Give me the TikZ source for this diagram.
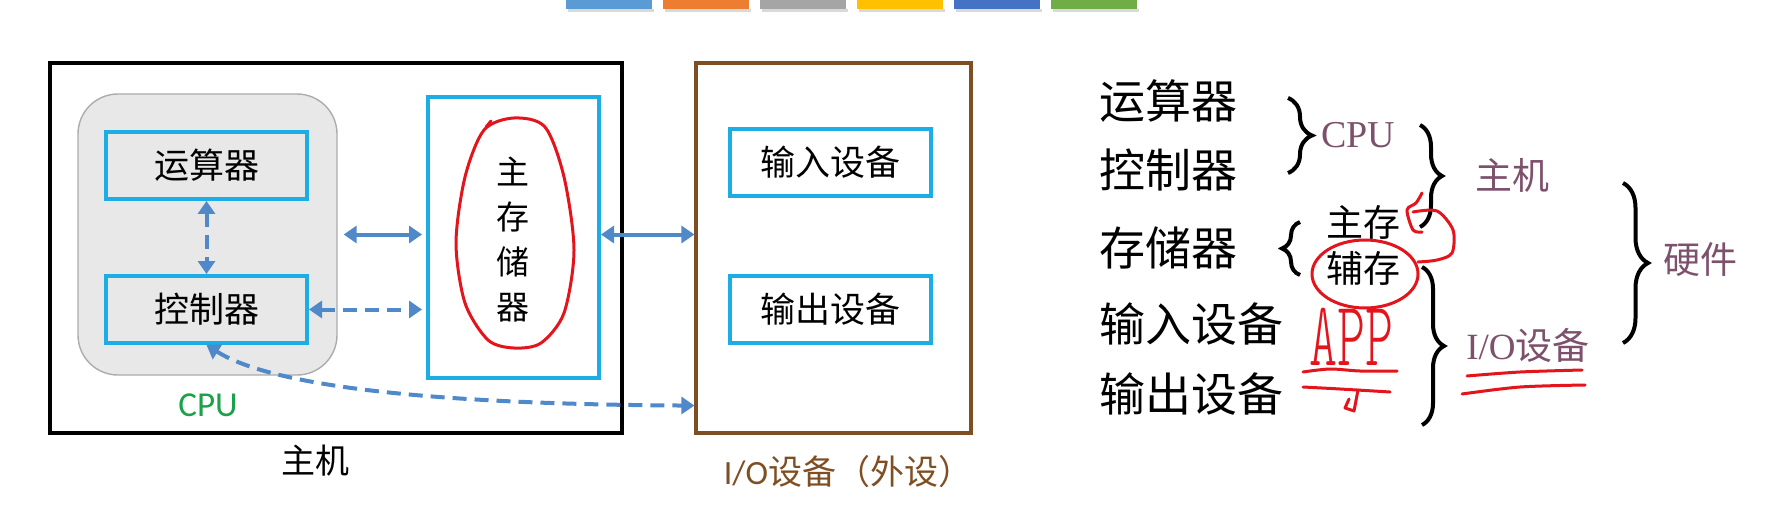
\documentclass[tikz,border=0pt]{standalone}
\usepackage{fontspec}
\setmainfont{Noto Sans CJK SC}
\newfontfamily\latsans{Carlito}
\newfontfamily\latserif{Liberation Serif}
\newfontfamily\penfont{Latin Modern Mono Light}
\usepackage{tikz}
\usetikzlibrary{arrows.meta,positioning,calc,decorations.pathreplacing}
\definecolor{boxcyan}{HTML}{1CADE4}
\definecolor{linkblue}{HTML}{5089CA}
\definecolor{iobrown}{HTML}{7F4F24}
\definecolor{cpugreen}{HTML}{1AA14A}
\definecolor{notepurple}{HTML}{7D506C}
\definecolor{penred}{HTML}{E3141B}
\definecolor{barA}{HTML}{5B9BD5}
\definecolor{barB}{HTML}{ED7D31}
\definecolor{barC}{HTML}{A5A5A5}
\definecolor{barD}{HTML}{FFC000}
\definecolor{barE}{HTML}{4472C4}
\definecolor{barF}{HTML}{70AD47}
\tikzset{
  hostbox/.style ={draw=black,line width=1.8pt,minimum width=286pt,minimum height=185pt,inner sep=0pt},
  cpubox/.style  ={draw=gray!65,fill=gray!18,line width=0.7pt,rounded corners=20pt,
                   minimum width=129.5pt,minimum height=140.5pt,inner sep=0pt},
  unitbox/.style ={draw=boxcyan,line width=2pt,minimum width=100.5pt,minimum height=33.5pt,
                   inner sep=0pt,font=\fontsize{17.5}{20}\selectfont},
  membox/.style  ={draw=boxcyan,line width=2pt,minimum width=85.5pt,minimum height=140.5pt,inner sep=0pt},
  iobox/.style   ={draw=iobrown,line width=1.6pt,minimum width=137.5pt,minimum height=185pt,inner sep=0pt},
  link/.style    ={{Triangle[length=6.5pt,width=8.5pt]}-{Triangle[length=6.5pt,width=8.5pt]},
                   line width=2pt,linkblue},
  dlink/.style   ={link,dash pattern=on 7pt off 4pt},
  big/.style     ={anchor=west,inner sep=0pt,font=\fontsize{23}{26}\selectfont},
  small/.style   ={inner sep=0pt,font=\fontsize{18.5}{21}\selectfont},
  note/.style    ={inner sep=0pt,text=notepurple,font=\fontsize{18.5}{21}\selectfont},
  brc/.style     ={decorate,decoration={brace,amplitude=#1},line width=2pt},
  pen/.style     ={penred,line width=1.5pt,line cap=round,line join=round},
}

\begin{document}
\begin{tikzpicture}[x=0.5pt,y=-0.5pt]
  \useasboundingbox (0,0) rectangle (1791,529);
  % colour strip
  \foreach \c [count=\i from 0] in {barA,barB,barC,barD,barE,barF}{
    \fill[black!15] ({568+97*\i},9) rectangle ++(86,3);
    \fill[\c] ({566+97*\i},0) rectangle ++(86,9);
  }
  % host
  \node[hostbox] (host) at (336,248) {};
  \node[cpubox]  (cpu)  at (207.5,234.5) {};
  \node[unitbox] (alu)  at (206.5,165.5) {运算器};
  \node[unitbox] (ctrl) at (206.5,309.5) {控制器};
  \node[membox]  (mem)  at (513.5,237.5) {};
  \node[align=center,inner sep=0pt,font=\fontsize{16.5}{22.5}\selectfont] (memtxt) at (513,240) {主\\存\\储\\器};
  \node[text=cpugreen,font=\latsans\fontsize{17.5}{20}\selectfont] (cpulbl) at (208,405) {CPU};
  \node[font=\fontsize{17}{20}\selectfont] (hostlbl) at (315,461) {主机};
  % io devices
  \node[iobox]   (io)   at (833.5,248) {};
  \node[unitbox] (inp)  at (830.5,162.5) {输入设备};
  \node[unitbox] (outp) at (830.5,309) {输出设备};
  \node[text=iobrown,font=\fontsize{17}{20}\selectfont] (iolbl) at (848,472) {{\latsans I/O}设备（外设）};
  % links
  \coordinate (ioend) at ($(io.south west)+(0,-29)$);
  \draw[dlink] (alu.south) -- (ctrl.north);
  \draw[link,shorten <=3pt,shorten >=2pt] (cpu.east) -- (cpu.east -| mem.west);
  \draw[dlink,shorten >=2pt] (ctrl.east) -- (ctrl.east -| mem.west);
  \draw[link] (mem.east |- cpu.east) -- (cpu.east -| io.west);
  \draw[dlink] (ctrl.south) .. controls (270,385) and (420,404) .. (ioend);
  % red mark on memory
  \draw[pen] plot[smooth cycle] coordinates {(514,118) (545,127) (564,177) (574,250) (564,313)
    (541,343) (514,348) (488,340) (465,303) (456,243) (465,177) (484,130)};
  \draw[pen] (491,121) -- (486,127);

  % right list
  \node[big] (alu2)   at (1099,101) {运算器};
  \node[big] (ctrl2)  at (1099,170) {控制器};
  \node[big] (store2) at (1099,248) {存储器};
  \node[big] (in2)    at (1099,324) {输入设备};
  \node[big] (out2)   at (1099,394) {输出设备};
  \node[small] (main2) at (1363,222) {主存};
  \node[small] (aux2)  at (1363,268) {辅存};
  \node[note,font=\latserif\fontsize{19}{21}\selectfont] (cpu2) at (1358,135) {CPU};
  \node[note] (host2) at (1512,175) {主机};
  \node[note] (io2)   at (1528,345) {{\latserif I/O}设备};
  \node[note] (hw2)   at (1700,260) {硬件};
  % braces
  \coordinate (b1a) at (1288,98);  \coordinate (b1b) at (1288,173);
  \coordinate (b2a) at (1300,275); \coordinate (b2b) at (1300,222);
  \coordinate (b3a) at (1420,125); \coordinate (b3b) at (1420,227);
  \coordinate (b4a) at (1422,267); \coordinate (b4b) at (1422,425);
  \coordinate (b5a) at (1623,183); \coordinate (b5b) at (1623,343);
  \draw[brc=12pt] (b1a) -- (b1b);
  \draw[brc=9pt]  (b2a) -- (b2b);
  \draw[brc=11pt] (b3a) -- (b3b);
  \draw[brc=11pt] (b4a) -- (b4b);
  \draw[brc=12.5pt] (b5a) -- (b5b);
  % red pen notes
  \draw[pen] (1365,274) ellipse [x radius=53,y radius=34];
  \draw[pen] plot[smooth] coordinates {(1422,193) (1416,203) (1407,210) (1413,230) (1422,232)};
  \draw[pen] plot[smooth] coordinates {(1413,212) (1437,211) (1453,230) (1452,253) (1437,260) (1418,262)};
  \node[text=penred,font=\penfont\fontsize{46}{46}\selectfont,xscale=0.58,inner sep=0pt] (app) at (1351,337) {APP};
  \draw[pen] plot[smooth] coordinates {(1303,372) (1330,369) (1360,371) (1397,371)};
  \draw[pen] plot[smooth] coordinates {(1303,387) (1340,389) (1390,392)};
  \draw[pen] (1358,390) -- (1354,411) -- (1345,408) -- (1349,399);
  \draw[pen] plot[smooth] coordinates {(1467,376) (1520,372) (1582,370)};
  \draw[pen] plot[smooth] coordinates {(1462,394) (1520,387) (1585,385)};
\end{tikzpicture}
\end{document}
